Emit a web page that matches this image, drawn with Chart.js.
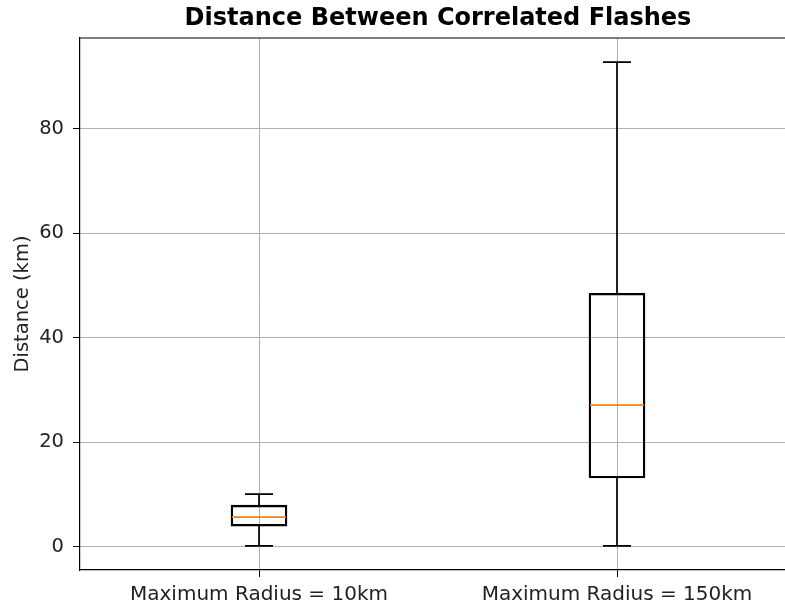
<!DOCTYPE html>
<html>
<head>
<meta charset="utf-8">
<script src="https://cdn.jsdelivr.net/npm/chart.js"></script>
<style>
html, body { margin: 0; padding: 0; overflow: hidden; background: #fff; }
canvas { display: block; }
</style>
</head>
<body>
<canvas id="myChart" width="785" height="606"></canvas>
<script>
// box plot summary
const categories = ['Maximum Radius = 10km', 'Maximum Radius = 150km'];
const positions = [1, 2];
const whiskerLow = [0.2, 0.2];
const q1 = [4.0, 13.2];
const median = [5.7, 27.1];
const q3 = [8.0, 48.5];
const whiskerHigh = [10.1, 92.7];
const yTicks = [0, 20, 40, 60, 80];

const FONT = "'DejaVu Sans', sans-serif";
const TITLE = 'Distance Between Correlated Flashes';

// whiskers, caps, medians, top spine and the title (centred over the axes like matplotlib)
const boxPlot = {
  id: 'boxPlot',
  afterDatasetsDraw(chart) {
    const ctx = chart.ctx;
    const y = chart.scales.y;
    const x = chart.scales.x;
    const meta = chart.getDatasetMeta(0);
    ctx.save();
    meta.data.forEach((bar, i) => {
      const cx = bar.x;
      const half = bar.width / 2;
      const cap = half / 2;
      const hi = y.getPixelForValue(whiskerHigh[i]);
      const lo = y.getPixelForValue(whiskerLow[i]);
      ctx.strokeStyle = '#000';
      ctx.lineWidth = 1.7;
      ctx.beginPath();
      ctx.moveTo(cx, y.getPixelForValue(q3[i]));
      ctx.lineTo(cx, hi);
      ctx.moveTo(cx, y.getPixelForValue(q1[i]));
      ctx.lineTo(cx, lo);
      ctx.moveTo(cx - cap, hi);
      ctx.lineTo(cx + cap, hi);
      ctx.moveTo(cx - cap, lo);
      ctx.lineTo(cx + cap, lo);
      ctx.stroke();

      const m = y.getPixelForValue(median[i]);
      ctx.strokeStyle = '#ff7f0e';
      ctx.lineWidth = 1.8;
      ctx.beginPath();
      ctx.moveTo(cx - half + 1, m);
      ctx.lineTo(cx + half - 1, m);
      ctx.stroke();
    });
    const a = chart.chartArea;
    ctx.strokeStyle = '#000';
    ctx.lineWidth = 1.2;
    ctx.beginPath();
    ctx.moveTo(a.left, a.top);
    ctx.lineTo(a.right, a.top);
    ctx.stroke();

    // full axes would run from 0.5 to 2.5, the picture cuts the right edge off
    const titleX = (x.getPixelForValue(0.5) + x.getPixelForValue(2.5)) / 2;
    ctx.fillStyle = '#000';
    ctx.font = 'bold 24px ' + FONT;
    ctx.textAlign = 'center';
    ctx.textBaseline = 'middle';
    ctx.fillText(TITLE, titleX, 18.5);
    ctx.restore();
  }
};

const ctx = document.getElementById('myChart').getContext('2d');
new Chart(ctx, {
  type: 'bar',
  data: {
    datasets: [{
      data: positions.map((p, i) => ({ x: p, y: [q1[i], q3[i]] })),
      backgroundColor: 'rgba(0,0,0,0)',
      borderColor: '#000',
      borderWidth: 1.7,
      borderSkipped: false,
      barThickness: 56
    }]
  },
  options: {
    responsive: false,
    animation: false,
    layout: { padding: { left: 0, right: 0, top: 38, bottom: 0 } },
    plugins: {
      legend: { display: false },
      tooltip: { enabled: false },
      title: { display: false }
    },
    scales: {
      x: {
        type: 'linear',
        offset: false,
        min: 0.5,
        max: 0.5 + 705 / 358,
        afterFit(scale) { scale.height = 36; },
        afterBuildTicks(scale) { scale.ticks = positions.map(v => ({ value: v })); },
        grid: { offset: false, color: '#b0b0b0', lineWidth: 1, tickColor: '#000', tickLength: 7 },
        border: { color: '#000', width: 1.2 },
        ticks: {
          color: '#222',
          font: { family: FONT, size: 20 },
          padding: 6,
          maxRotation: 0,
          autoSkip: false,
          callback: (v) => categories[positions.indexOf(v)]
        }
      },
      y: {
        min: -4.4,
        max: 97.3,
        afterFit(scale) { scale.width = 80; },
        afterBuildTicks(scale) { scale.ticks = yTicks.map(v => ({ value: v })); },
        grid: { color: '#b0b0b0', lineWidth: 1, tickColor: '#000', tickLength: 7 },
        border: { color: '#000', width: 1.2 },
        ticks: { color: '#222', font: { family: FONT, size: 19.5 }, padding: 9 },
        title: {
          display: true,
          text: 'Distance (km)',
          color: '#222',
          font: { family: FONT, size: 19.5 },
          padding: { top: 11, bottom: 0 }
        }
      }
    }
  },
  plugins: [boxPlot]
});
</script>
</body>
</html>
